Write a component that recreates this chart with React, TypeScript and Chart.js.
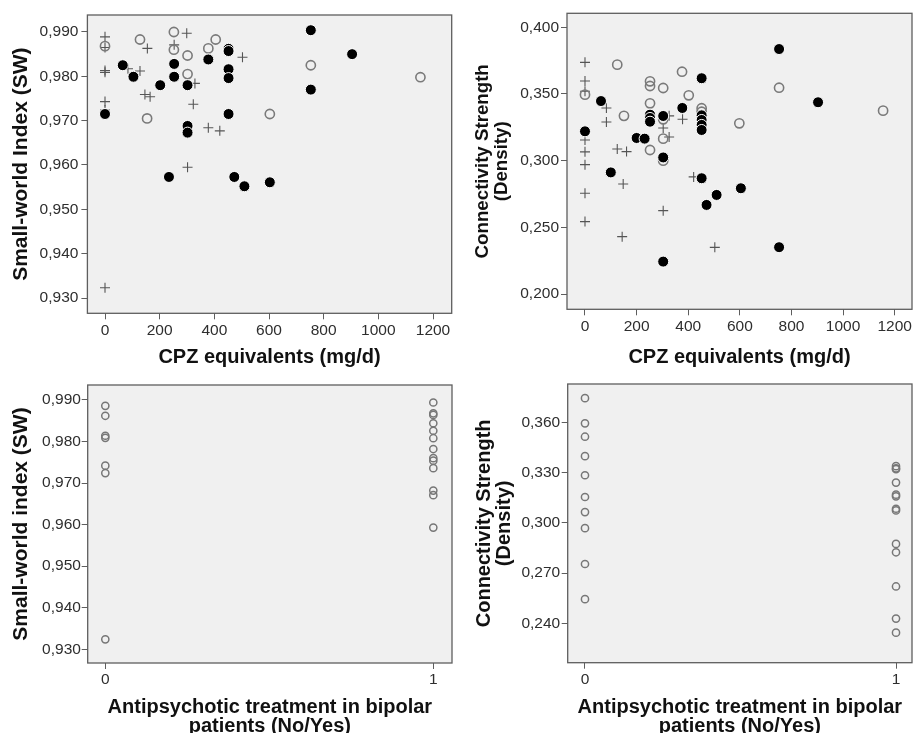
import React, { useEffect, useRef } from "react";
import { Chart, registerables } from "chart.js";

Chart.register(...registerables);

const FONT = "'Liberation Sans', Arial, Helvetica, sans-serif";

// ---------- Top-left: CPZ equivalents vs Small-world index ----------
const swFilledCpz = [0, 65, 104, 202, 253, 253, 302, 302, 302, 378, 452, 452, 452, 452, 452, 753, 753, 904, 234, 473, 510, 603];
const swFilledVal = [0.9715, 0.9825, 0.9799, 0.978, 0.9828, 0.9799, 0.978, 0.9688, 0.9673, 0.9838, 0.9862, 0.9857, 0.9816, 0.9796, 0.9715, 0.9904, 0.977, 0.985, 0.9573, 0.9573, 0.9552, 0.9561];
const swOpenCpz = [0, 128, 154, 252, 252, 302, 302, 378, 405, 603, 753, 1154];
const swOpenVal = [0.9868, 0.9883, 0.9705, 0.99, 0.986, 0.9847, 0.9805, 0.9863, 0.9883, 0.9715, 0.9825, 0.9798];
const swPlusCpz = [0, 0, 0, 0, 0, 0, 0, 299, 155, 253, 503, 128, 84, 329, 146, 165, 323, 378, 420, 302];
const swPlusVal = [0.9889, 0.9865, 0.9813, 0.9809, 0.9743, 0.9724, 0.9323, 0.9897, 0.9863, 0.9871, 0.9843, 0.9812, 0.9817, 0.9784, 0.9759, 0.9754, 0.9737, 0.9684, 0.9677, 0.9595];

// ---------- Top-right: CPZ equivalents vs Connectivity strength ----------
const csFilledCpz = [0, 62, 100, 200, 231, 252, 252, 252, 303, 303, 377, 452, 452, 452, 452, 452, 752, 903, 452, 471, 510, 604, 752, 303];
const csFilledVal = [0.322, 0.3447, 0.2912, 0.317, 0.3165, 0.3345, 0.332, 0.3292, 0.3335, 0.3024, 0.3395, 0.3618, 0.334, 0.3305, 0.3268, 0.323, 0.3837, 0.3438, 0.2868, 0.2668, 0.2743, 0.2793, 0.2351, 0.2243];
const csOpenCpz = [0, 125, 151, 252, 252, 252, 252, 303, 303, 303, 303, 376, 402, 452, 452, 598, 752, 1155];
const csOpenVal = [0.3495, 0.372, 0.3336, 0.3595, 0.356, 0.343, 0.308, 0.3545, 0.331, 0.3165, 0.3, 0.3667, 0.349, 0.3393, 0.3367, 0.328, 0.3547, 0.3375];
const csPlusCpz = [0, 0, 0, 0, 0, 0, 0, 0, 83, 83, 125, 161, 303, 326, 326, 378, 421, 148, 144, 303, 503];
const csPlusVal = [0.3737, 0.3597, 0.352, 0.3155, 0.3066, 0.297, 0.2756, 0.2543, 0.3395, 0.329, 0.3087, 0.3068, 0.3245, 0.3336, 0.3177, 0.331, 0.2878, 0.2825, 0.243, 0.2625, 0.235];

// ---------- Bottom: antipsychotic treatment (0 = No, 1 = Yes) ----------
const swUntreated = [0.9886, 0.9862, 0.9814, 0.9809, 0.9742, 0.9724, 0.9324];
const swTreated = [0.9894, 0.9868, 0.9864, 0.9844, 0.9826, 0.9808, 0.9782, 0.976, 0.9754, 0.9736, 0.9682, 0.9671, 0.9593];
const csUntreated = [0.3744, 0.3594, 0.3514, 0.3398, 0.3284, 0.3154, 0.3064, 0.2968, 0.2754, 0.2544];
const csTreated = [0.3338, 0.3325, 0.332, 0.324, 0.3168, 0.3158, 0.3084, 0.3074, 0.2874, 0.2824, 0.262, 0.2428, 0.2344];

// ---------- Tick values ----------
const cpzTicks = [0, 200, 400, 600, 800, 1000, 1200];
const swTicks = [0.93, 0.94, 0.95, 0.96, 0.97, 0.98, 0.99];
const csTopTicks = [0.2, 0.25, 0.3, 0.35, 0.4];
const csBottomTicks = [0.24, 0.27, 0.3, 0.33, 0.36];
const groupTicks = [0, 1];

const zip = (xs: number[], ys: number[]) => xs.map((x, i) => ({ x, y: ys[i] }));
const atGroup = (g: number, ys: number[]) => ys.map((y) => ({ x: g, y }));

const filledStyle = {
  pointStyle: "circle",
  pointRadius: 5.5,
  pointBackgroundColor: "#000000",
  pointBorderColor: "#ffffff",
  pointBorderWidth: 1,
};
const openStyle = {
  pointStyle: "circle",
  pointRadius: 4.6,
  pointBackgroundColor: "rgba(0,0,0,0)",
  pointBorderColor: "#7a7a7a",
  pointBorderWidth: 1.6,
};
const plusStyle = {
  pointStyle: "cross",
  pointRadius: 5,
  pointBackgroundColor: "rgba(0,0,0,0)",
  pointBorderColor: "#555555",
  pointBorderWidth: 1.1,
};
const smallOpenStyle = {
  pointStyle: "circle",
  pointRadius: 3.6,
  pointBackgroundColor: "rgba(0,0,0,0)",
  pointBorderColor: "#777777",
  pointBorderWidth: 1.5,
};

const framePlugin = {
  id: "spssFrame",
  beforeDraw(chart: any) {
    const { ctx, chartArea } = chart;
    const { left, top, right, bottom } = chartArea;
    ctx.save();
    ctx.fillStyle = "#f0f0f0";
    ctx.fillRect(left, top, right - left, bottom - top);
    ctx.restore();
  },
  afterDatasetsDraw(chart: any) {
    const { ctx, chartArea } = chart;
    const { left, top, right, bottom } = chartArea;
    ctx.save();
    ctx.strokeStyle = "#5e5e5e";
    ctx.lineWidth = 1.3;
    ctx.strokeRect(left, top, right - left, bottom - top);
    ctx.restore();
  },
};

type PanelSpec = {
  left: number;
  top: number;
  width: number;
  height: number;
  padTop: number;
  padRight: number;
  yAxisW: number;
  xAxisH: number;
  xMin: number;
  xMax: number;
  yMin: number;
  yMax: number;
  xTicks: number[];
  yTicks: number[];
  xTickPad: number;
  yTickPad: number;
  xTitle: string | string[];
  xTitleSize: number;
  xTitleLH: number;
  xTitlePad: number;
  yTitle: string | string[];
  yTitleSize: number;
  yTitleLH: number;
  yTitlePad: number;
  datasets: any[];
};

const panels: PanelSpec[] = [
  {
    left: 0, top: 0, width: 460, height: 370,
    padTop: 15, padRight: 8.3, yAxisW: 87.4, xAxisH: 56.7,
    xMin: -64.4, xMax: 1268.4, yMin: 0.92655, yMax: 0.99383,
    xTicks: cpzTicks, yTicks: swTicks, xTickPad: 2.1, yTickPad: 3,
    xTitle: "CPZ equivalents (mg/d)", xTitleSize: 20, xTitleLH: 1.2, xTitlePad: 0.5,
    yTitle: "Small-world Index (SW)", yTitleSize: 21, yTitleLH: 1.2, yTitlePad: 8.4,
    datasets: [
      { label: "filled", data: zip(swFilledCpz, swFilledVal), ...filledStyle },
      { label: "open", data: zip(swOpenCpz, swOpenVal), ...openStyle },
      { label: "plus", data: zip(swPlusCpz, swPlusVal), ...plusStyle },
    ],
  },
  {
    left: 460, top: 0, width: 459, height: 370,
    padTop: 13.3, padRight: 7, yAxisW: 107, xAxisH: 60.7,
    xMin: -69.7, xMax: 1267, yMin: 0.18853, yMax: 0.4105,
    xTicks: cpzTicks, yTicks: csTopTicks, xTickPad: 2.1, yTickPad: 2,
    xTitle: "CPZ equivalents (mg/d)", xTitleSize: 20, xTitleLH: 1.2, xTitlePad: 0.5,
    yTitle: ["Connectivity Strength", "(Density)"], yTitleSize: 18.7, yTitleLH: 0.985, yTitlePad: 14.1,
    datasets: [
      { label: "filled", data: zip(csFilledCpz, csFilledVal), ...filledStyle },
      { label: "open", data: zip(csOpenCpz, csOpenVal), ...openStyle },
      { label: "plus", data: zip(csPlusCpz, csPlusVal), ...plusStyle },
    ],
  },
  {
    left: 0, top: 370, width: 460, height: 380,
    padTop: 15, padRight: 8, yAxisW: 87.7, xAxisH: 87,
    xMin: -0.0537, xMax: 1.057, yMin: 0.9267, yMax: 0.99361,
    xTicks: groupTicks, yTicks: swTicks, xTickPad: 1.7, yTickPad: 0.8,
    xTitle: ["Antipsychotic treatment in bipolar", "patients (No/Yes)"], xTitleSize: 20, xTitleLH: 0.95, xTitlePad: 14,
    yTitle: "Small-world index (SW)", yTitleSize: 21, yTitleLH: 1.2, yTitlePad: 9.1,
    datasets: [
      { label: "no", data: atGroup(0, swUntreated), ...smallOpenStyle },
      { label: "yes", data: atGroup(1, swTreated), ...smallOpenStyle },
    ],
  },
  {
    left: 460, top: 370, width: 459, height: 380,
    padTop: 14, padRight: 7, yAxisW: 107.7, xAxisH: 87.3,
    xMin: -0.0556, xMax: 1.0514, yMin: 0.21648, yMax: 0.38287,
    xTicks: groupTicks, yTicks: csBottomTicks, xTickPad: 1.3, yTickPad: 1.5,
    xTitle: ["Antipsychotic treatment in bipolar", "patients (No/Yes)"], xTitleSize: 20, xTitleLH: 0.95, xTitlePad: 14,
    yTitle: ["Connectivity Strength", "(Density)"], yTitleSize: 20, yTitleLH: 1.0, yTitlePad: 14,
    datasets: [
      { label: "no", data: atGroup(0, csUntreated), ...smallOpenStyle },
      { label: "yes", data: atGroup(1, csTreated), ...smallOpenStyle },
    ],
  },
];

const tickFont = { family: FONT, size: 15.5, weight: "normal" as const, lineHeight: 1.2 };

function buildConfig(p: PanelSpec): any {
  return {
    type: "scatter",
    data: { datasets: p.datasets },
    options: {
      animation: false,
      responsive: false,
      events: [],
      layout: { padding: { left: 0, top: p.padTop, right: p.padRight, bottom: 0 } },
      plugins: { legend: { display: false }, tooltip: { enabled: false } },
      scales: {
        x: {
          type: "linear",
          position: "bottom",
          min: p.xMin,
          max: p.xMax,
          afterBuildTicks: (s: any) => {
            s.ticks = p.xTicks.map((v) => ({ value: v }));
          },
          afterFit: (s: any) => {
            s.height = p.xAxisH;
          },
          border: { display: false },
          grid: { display: true, drawOnChartArea: false, drawTicks: true, tickLength: 6, color: "#5e5e5e", lineWidth: 1 },
          ticks: {
            autoSkip: false,
            maxRotation: 0,
            minRotation: 0,
            padding: p.xTickPad,
            color: "#2e2e2e",
            font: tickFont,
            callback: (v: any) => String(v),
          },
          title: {
            display: true,
            text: p.xTitle,
            color: "#111111",
            font: { family: FONT, size: p.xTitleSize, weight: "bold", lineHeight: p.xTitleLH },
            padding: { top: 0, bottom: p.xTitlePad },
          },
        },
        y: {
          type: "linear",
          position: "left",
          min: p.yMin,
          max: p.yMax,
          afterBuildTicks: (s: any) => {
            s.ticks = p.yTicks.map((v) => ({ value: v }));
          },
          afterFit: (s: any) => {
            s.width = p.yAxisW;
          },
          border: { display: false },
          grid: { display: true, drawOnChartArea: false, drawTicks: true, tickLength: 6, color: "#5e5e5e", lineWidth: 1 },
          ticks: {
            autoSkip: false,
            padding: p.yTickPad,
            color: "#2e2e2e",
            font: tickFont,
            callback: (v: any) => Number(v).toFixed(3).replace(".", ","),
          },
          title: {
            display: true,
            text: p.yTitle,
            color: "#111111",
            font: { family: FONT, size: p.yTitleSize, weight: "bold", lineHeight: p.yTitleLH },
            padding: { top: p.yTitlePad, bottom: 0 },
          },
        },
      },
    },
    plugins: [framePlugin],
  };
}

function Panel({ spec }: { spec: PanelSpec }) {
  const ref = useRef<HTMLCanvasElement | null>(null);
  useEffect(() => {
    if (!ref.current) return;
    const chart = new Chart(ref.current, buildConfig(spec));
    return () => chart.destroy();
  }, [spec]);
  return (
    <canvas
      ref={ref}
      width={spec.width}
      height={spec.height}
      style={{
        position: "absolute",
        left: spec.left,
        top: spec.top,
        width: spec.width,
        height: spec.height,
        display: "block",
      }}
    />
  );
}

export default function App() {
  return (
    <div
      style={{
        position: "absolute",
        left: 0,
        top: 0,
        width: 919,
        height: 733,
        overflow: "hidden",
        background: "#ffffff",
      }}
    >
      {panels.map((p, i) => (
        <Panel key={i} spec={p} />
      ))}
    </div>
  );
}
